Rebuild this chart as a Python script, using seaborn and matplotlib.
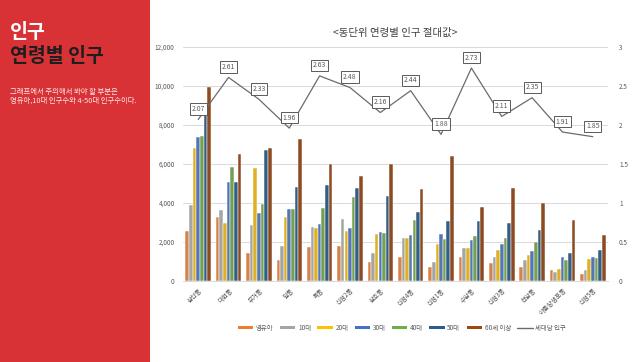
import numpy as np
import pandas as pd
import matplotlib
matplotlib.use("Agg")
import matplotlib.pyplot as plt
from matplotlib.patches import Rectangle, Patch
from matplotlib.lines import Line2D
import seaborn as sns

# ---------------- data ----------------
dongs = ["삼산동", "대현동", "무거동", "달동", "옥동", "신정2동", "삼호동",
         "신정4동", "신정1동", "수암동", "신정3동", "선암동", "야음장생포동", "신정5동"]
ages = ["영유아", "10대", "20대", "30대", "40대", "50대", "60세 이상"]
v_infant = [2570, 3300, 1420, 1080, 1730, 1810, 960, 1250, 700, 1230, 940, 730, 580, 360]
v_10s    = [3880, 3640, 2860, 1790, 2780, 3160, 1420, 2190, 960, 1690, 1230, 1080, 460, 550]
v_20s    = [6810, 2950, 5800, 3300, 2720, 2540, 2430, 2220, 1880, 1680, 1570, 1320, 620, 1130]
v_30s    = [7390, 5060, 3470, 3680, 2900, 2740, 2530, 2360, 2410, 2100, 1900, 1540, 1230, 1230]
v_40s    = [7430, 5850, 3950, 3680, 3720, 4310, 2450, 3130, 2150, 2310, 2200, 2000, 1080, 1180]
v_50s    = [8510, 5060, 6720, 4840, 4920, 4750, 4370, 3560, 3080, 3080, 2960, 2620, 1450, 1590]
v_60p    = [9930, 6510, 6800, 7260, 5980, 5380, 6000, 4740, 6430, 3810, 4770, 3980, 3110, 2360]
per_household = [2.07, 2.61, 2.33, 1.96, 2.63, 2.48, 2.16, 2.44, 1.88, 2.73, 2.11, 2.35, 1.91, 1.85]
left_ticks = [0, 2000, 4000, 6000, 8000, 10000, 12000]
right_ticks = [0, 0.5, 1, 1.5, 2, 2.5, 3]
right_ticklabels = ["0", "0.5", "1", "1.5", "2", "2.5", "3"]
line_label = "세대당 인구"

colors = ["#ED7D31", "#A5A5A5", "#FFC000", "#4472C4", "#70AD47", "#255E91", "#9E480E"]
line_color = "#6B6B6B"
text_gray = "#595959"

series = [v_infant, v_10s, v_20s, v_30s, v_40s, v_50s, v_60p]
rows = []
for age, vals in zip(ages, series):
    for d, v in zip(dongs, vals):
        rows.append({"dong": d, "age": age, "value": v})
df = pd.DataFrame(rows)

# ---------------- style ----------------
sns.set_theme(style="white")
plt.rcParams["font.family"] = ["Noto Sans CJK KR", "DejaVu Sans"]
plt.rcParams["axes.unicode_minus"] = False

fig = plt.figure(figsize=(6.4, 3.62), dpi=100)
fig.patch.set_facecolor("white")

# left red panel
fig.patches.append(Rectangle((0, 0), 150 / 640, 1, transform=fig.transFigure,
                             facecolor="#D93236", edgecolor="none", zorder=0))
fig.text(10 / 640, 1 - 32 / 362, "인구", color="white", fontsize=14,
         fontweight="bold", va="center", ha="left")
fig.text(10 / 640, 1 - 57 / 362, "연령별 인구", color="#1E1E1E", fontsize=14,
         fontweight="bold", va="center", ha="left")
fig.text(10 / 640, 1 - 92 / 362, "그래프에서 주의해서 봐야 할 부분은", color="#FFE6E6",
         fontsize=5.3, va="center", ha="left")
fig.text(10 / 640, 1 - 100.5 / 362, "영유아,10대 인구수와 4-50대 인구수이다.", color="#FFE6E6",
         fontsize=5.3, va="center", ha="left")

# chart
ax = fig.add_axes([183 / 640, 1 - 281 / 362, (608 - 183) / 640, (281 - 47) / 362])
sns.barplot(data=df, x="dong", y="value", hue="age", palette=colors, ax=ax,
            width=0.84, edgecolor="white", linewidth=0.35, legend=False, zorder=2)
ax.set_ylim(0, 12000)
ax.set_yticks(left_ticks)
ax.set_yticklabels([f"{t:,}" for t in left_ticks])
ax.set_xlabel("")
ax.set_ylabel("")
ax.set_xlim(-0.5, len(dongs) - 0.5)
ax.yaxis.grid(True, color="#D9D9D9", linewidth=0.7, zorder=0)
ax.set_axisbelow(True)
for s in ["top", "left", "right"]:
    ax.spines[s].set_visible(False)
ax.spines["bottom"].set_color("#D9D9D9")
ax.spines["bottom"].set_linewidth(0.7)
ax.tick_params(axis="both", length=0, labelsize=4.6, colors=text_gray, pad=6)
plt.setp(ax.get_xticklabels(), rotation=45, ha="right", rotation_mode="anchor")
ax.tick_params(axis="x", pad=4)

ax2 = ax.twinx()
xs = np.arange(len(dongs))
sns.lineplot(x=xs, y=per_household, ax=ax2, color=line_color, linewidth=0.9, zorder=3)
ax2.set_ylim(0, 3)
ax2.set_yticks(right_ticks)
ax2.set_yticklabels(right_ticklabels)
ax2.set_ylabel("")
for s in ["top", "left", "right", "bottom"]:
    ax2.spines[s].set_visible(False)
ax2.tick_params(axis="both", length=0, labelsize=4.6, colors=text_gray, pad=8)
ax2.grid(False)
for x, v in zip(xs, per_household):
    ax2.annotate(f"{v:.2f}", (x, v), xytext=(0, 7.5), textcoords="offset points",
                 ha="center", va="center", fontsize=5.0, color=text_gray,
                 bbox=dict(boxstyle="square,pad=0.25", fc="white", ec="#595959", lw=0.7),
                 zorder=5)

ax.set_title("<동단위 연령별 인구 절대값>", fontsize=7.5, color="#404040", pad=8)

handles = [Patch(facecolor=c, edgecolor="none") for c in colors]
handles.append(Line2D([0], [0], color=line_color, lw=1.0))
fig.legend(handles, ages + [line_label], loc="center", ncol=8,
           bbox_to_anchor=(402 / 640, 1 - 328 / 362), frameon=False,
           fontsize=4.6, labelcolor=text_gray, handlelength=2.4, handleheight=0.45,
           handletextpad=0.4, columnspacing=1.0)

fig.savefig("out.png", dpi=100, facecolor="white")
